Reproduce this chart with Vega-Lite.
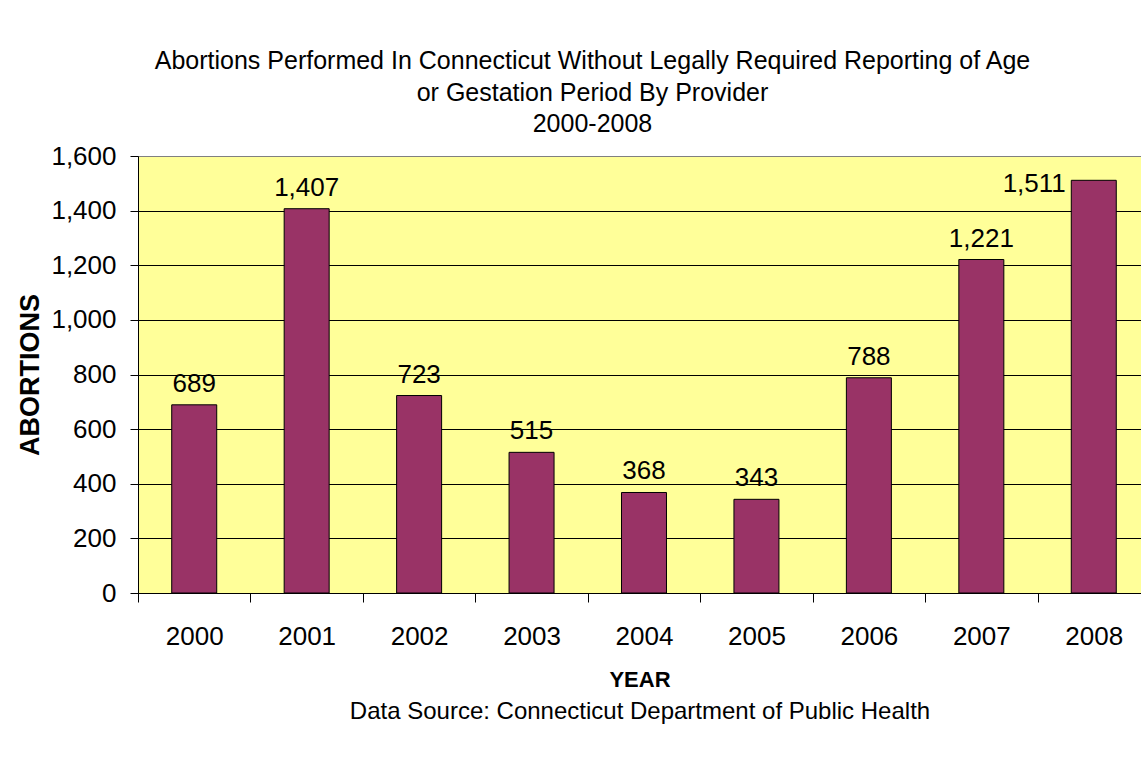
{
  "$schema": "https://vega.github.io/schema/vega-lite/v6.json",
  "width": 1003,
  "height": 437,
  "autosize": {"type": "none"},
  "padding": {"left": 138, "top": 156, "right": 0, "bottom": 182},
  "background": "white",
  "title": {
    "text": ["Abortions Performed In Connecticut Without Legally Required Reporting of Age", "or Gestation Period By Provider", "2000-2008"],
    "fontSize": 25,
    "font": "Liberation Sans",
    "fontWeight": "normal",
    "color": "black",
    "anchor": "middle",
    "dx": -47,
    "offset": 6,
    "lineHeight": 31.5
  },
  "config": {
    "view": {"fill": "#FFFF99", "stroke": "#808080", "strokeWidth": 1},
    "font": "Liberation Sans"
  },
  "data": {
    "values": [
      {"year": 2000, "value": 689},
      {"year": 2001, "value": 1407},
      {"year": 2002, "value": 723},
      {"year": 2003, "value": 515},
      {"year": 2004, "value": 368},
      {"year": 2005, "value": 343},
      {"year": 2006, "value": 788},
      {"year": 2007, "value": 1221},
      {"year": 2008, "value": 1511}
    ]
  },
  "encoding": {
    "y": {
      "field": "value",
      "type": "quantitative",
      "scale": {"domain": [0, 1600], "nice": false},
      "axis": {
        "values": [0, 200, 400, 600, 800, 1000, 1200, 1400, 1600],
        "format": ",.0f",
        "tickSize": 8,
        "tickColor": "black",
        "domainColor": "black",
        "labelPadding": 14,
        "labelFontSize": 26,
        "labelColor": "black",
        "labelFont": "Liberation Sans",
        "grid": true,
        "gridColor": {"condition": {"test": "datum.value === 1600", "value": "#808080"}, "value": "black"},
        "gridOpacity": 1,
        "title": "ABORTIONS",
        "titleFontSize": 27,
        "titleFontWeight": "bold",
        "titleColor": "black",
        "titleFont": "Liberation Sans",
        "titlePadding": 6
      }
    }
  },
  "resolve": {"scale": {"x": "shared"}, "axis": {"x": "independent"}},
  "layer": [
    {
      "mark": {"type": "bar", "orient": "vertical", "width": 45, "color": "#993366", "stroke": "black", "strokeWidth": 1},
      "encoding": {
        "x": {
          "field": "year",
          "type": "quantitative",
          "scale": {"domain": [1999.5, 2008.42], "nice": false, "zero": false, "padding": 0},
          "axis": {
            "orient": "bottom",
            "values": [1999.5, 2000.5, 2001.5, 2002.5, 2003.5, 2004.5, 2005.5, 2006.5, 2007.5],
            "labels": false,
            "tickSize": 9,
            "tickColor": "black",
            "domainColor": "black",
            "grid": false,
            "title": null
          }
        }
      }
    },
    {
      "transform": [{"filter": "datum.year != 2008"}],
      "mark": {"type": "text", "align": "center", "baseline": "alphabetic", "dy": -13, "fontSize": 26, "color": "black", "font": "Liberation Sans"},
      "encoding": {
        "x": {
          "field": "year",
          "type": "quantitative",
          "axis": {
            "orient": "bottom",
            "values": [2000, 2001, 2002, 2003, 2004, 2005, 2006, 2007, 2008],
            "format": "d",
            "ticks": false,
            "domain": false,
            "grid": false,
            "labelPadding": 30,
            "labelFontSize": 26,
            "labelColor": "black",
            "labelFont": "Liberation Sans",
            "title": "YEAR",
            "titleFontSize": 22,
            "titleFontWeight": "bold",
            "titleColor": "black",
            "titleFont": "Liberation Sans",
            "titlePadding": 20
          }
        },
        "text": {"field": "value", "type": "quantitative", "format": ","}
      }
    },
    {
      "transform": [{"filter": "datum.year == 2008"}],
      "mark": {"type": "text", "align": "right", "baseline": "alphabetic", "dx": -28, "dy": 12, "fontSize": 26, "color": "black", "font": "Liberation Sans"},
      "encoding": {
        "x": {
          "field": "year",
          "type": "quantitative",
          "axis": {
            "orient": "bottom",
            "labels": false,
            "ticks": false,
            "domain": false,
            "grid": false,
            "offset": 106,
            "title": "Data Source: Connecticut Department of Public Health",
            "titleFontSize": 24,
            "titleFontWeight": "normal",
            "titleColor": "black",
            "titleFont": "Liberation Sans",
            "titlePadding": 0
          }
        },
        "text": {"field": "value", "type": "quantitative", "format": ","}
      }
    }
  ]
}
